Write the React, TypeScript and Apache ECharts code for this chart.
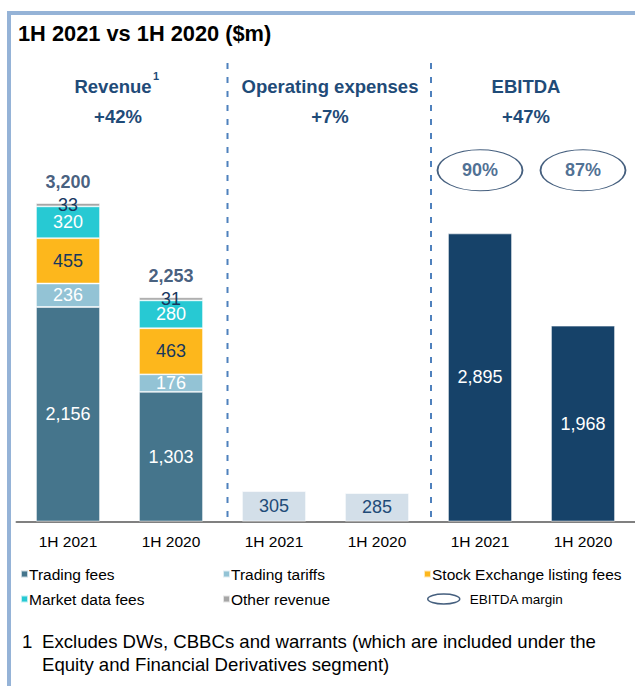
import React, { useEffect, useRef } from "react";
import * as echarts from "echarts";

const CATEGORIES = ["rev21", "rev20", "opex21", "opex20", "ebitda21", "ebitda20"];
const CATEGORY_LABELS = ["1H 2021", "1H 2020", "1H 2021", "1H 2020", "1H 2021", "1H 2020"];

const TRADING_FEES = [2156, 1303, null, null, null, null];
const TRADING_TARIFFS = [236, 176, null, null, null, null];
const LISTING_FEES = [455, 463, null, null, null, null];
const MARKET_DATA_FEES = [320, 280, null, null, null, null];
const OTHER_REVENUE = [33, 31, null, null, null, null];
const OPEX = [null, null, 305, 285, null, null];
const EBITDA = [null, null, null, null, 2895, 1968];
const EBITDA_MARGIN = [null, null, null, null, 90, 87];

const SECTION_TITLES = ["Revenue", "Operating expenses", "EBITDA"];
const SECTION_CHANGES = ["+42%", "+7%", "+47%"];
const TITLE = "1H 2021 vs 1H 2020 ($m)";
const FOOTNOTE = [
  "Excludes DWs, CBBCs and warrants (which are included under the",
  "Equity and Financial Derivatives segment)",
];

const FONT = "'Liberation Sans', Arial, Helvetica, sans-serif";
const NAVY = "#1f4b78";
const DARK = "#17375e";
const MARGIN_ROW = 3530; // vertical placement of the margin ellipses (axis units)

const fmt = (v: number) => v.toLocaleString("en-US");

export default function App() {
  const ref = useRef<HTMLDivElement>(null);

  useEffect(() => {
    if (!ref.current) return;
    const chart = echarts.init(ref.current, undefined, { renderer: "svg" });

    const totals = CATEGORIES.map((_, i) => {
      const parts = [TRADING_FEES, TRADING_TARIFFS, LISTING_FEES, MARKET_DATA_FEES, OTHER_REVENUE].map(
        (a) => a[i]
      );
      if (parts.every((p) => p == null)) return null;
      return parts.reduce((s: number, p) => s + (p || 0), 0);
    });

    const barSeries = (
      name: string,
      data: (number | null)[],
      color: string,
      labelColor: string
    ) => ({
      name,
      type: "bar",
      stack: "all",
      barWidth: 64,
      data,
      itemStyle: { color, borderColor: "rgba(255,255,255,0.7)", borderWidth: 0.8 },
      label: {
        show: true,
        position: "inside",
        formatter: (p: any) => fmt(p.value),
        color: labelColor,
        fontSize: 18,
        fontFamily: FONT,
        textBorderWidth: 0,
      },
    });

    const sectionCenters = [118, 330, 526];
    const graphic: any[] = [
      { type: "rect", shape: { x: 7, y: 11, width: 628, height: 4 }, style: { fill: "#95b3d7" } },
      { type: "rect", shape: { x: 7, y: 11, width: 4, height: 675 }, style: { fill: "#95b3d7" } },
      {
        type: "text",
        x: 18,
        y: 33,
        style: {
          text: TITLE,
          fontSize: 21.8,
          fontWeight: "bold",
          fontFamily: FONT,
          fill: "#000",
          textVerticalAlign: "middle",
        },
      },
      ...[227.5, 431].map((x) => ({
        type: "line",
        shape: { x1: x, y1: 63, x2: x, y2: 520 },
        style: { stroke: "#4f81bd", lineWidth: 2, lineDash: [6, 8] },
      })),
      ...SECTION_TITLES.map((t, i) => ({
        type: "text",
        x: i === 0 ? sectionCenters[i] - 5 : sectionCenters[i],
        y: 86,
        style: {
          text: t,
          fontSize: 18.5,
          fontWeight: "bold",
          fontFamily: FONT,
          fill: NAVY,
          textAlign: "center",
          textVerticalAlign: "middle",
        },
      })),
      {
        type: "text",
        x: 153,
        y: 76,
        style: {
          text: "1",
          fontSize: 11,
          fontWeight: "bold",
          fontFamily: FONT,
          fill: NAVY,
          textVerticalAlign: "middle",
        },
      },
      ...SECTION_CHANGES.map((t, i) => ({
        type: "text",
        x: sectionCenters[i],
        y: 116,
        style: {
          text: t,
          fontSize: 18.5,
          fontWeight: "bold",
          fontFamily: FONT,
          fill: NAVY,
          textAlign: "center",
          textVerticalAlign: "middle",
        },
      })),
      {
        type: "text",
        x: 22,
        y: 641,
        style: { text: "1", fontSize: 18.6, fontFamily: FONT, fill: "#000", textVerticalAlign: "middle" },
      },
      ...FOOTNOTE.map((t, i) => ({
        type: "text",
        x: 42,
        y: 641 + i * 23,
        style: { text: t, fontSize: 18.6, fontFamily: FONT, fill: "#000", textVerticalAlign: "middle" },
      })),
    ];

    const legendText = { fontSize: 15.5, fontFamily: FONT, color: "#000", lineHeight: 17, padding: [0, 0, 0, -4] };
    const legendBase = {
      orient: "vertical",
      padding: 0,
      itemWidth: 7,
      itemHeight: 7,
      itemGap: 8,
      icon: "rect",
      top: 565.5,
      textStyle: legendText,
      selectedMode: false,
    };

    chart.setOption({
      animation: false,
      backgroundColor: "#fff",
      grid: { left: 16.5, width: 618, top: 123.5, bottom: 164.5 },
      xAxis: {
        type: "category",
        data: CATEGORIES,
        axisLine: { show: true, lineStyle: { color: "#808080", width: 2 } },
        axisTick: { show: false },
        axisLabel: {
          formatter: (_: string, i: number) => CATEGORY_LABELS[i],
          color: "#000",
          fontSize: 15.5,
          fontFamily: FONT,
          margin: 12,
        },
      },
      yAxis: { type: "value", min: 0, max: 4000, show: false, splitLine: { show: false } },
      legend: [
        { ...legendBase, left: 20, data: ["Trading fees", "Market data fees"] },
        { ...legendBase, left: 222, data: ["Trading tariffs", "Other revenue"] },
        { ...legendBase, left: 423, data: ["Stock Exchange listing fees"] },
        {
          orient: "horizontal",
          padding: 0,
          left: 427,
          top: 590.5,
          itemWidth: 32,
          itemHeight: 10,
          selectedMode: false,
          textStyle: { fontSize: 13.5, fontFamily: FONT, color: "#000", lineHeight: 17, padding: [0, 0, 0, 5] },
          data: [
            {
              name: "EBITDA margin",
              icon: "path://M0,5 A16,5 0 1,1 32,5 A16,5 0 1,1 0,5 Z",
              itemStyle: { color: "#fff", borderColor: DARK, borderWidth: 1.5 },
            },
          ],
        },
      ],
      graphic,
      series: [
        barSeries("Trading fees", TRADING_FEES, "#45758c", "#fff"),
        barSeries("Trading tariffs", TRADING_TARIFFS, "#93c3d5", "#fff"),
        barSeries("Stock Exchange listing fees", LISTING_FEES, "#fdb71c", DARK),
        barSeries("Market data fees", MARKET_DATA_FEES, "#27c9d3", "#fff"),
        barSeries("Other revenue", OTHER_REVENUE, "#a6a6a6", DARK),
        barSeries("Operating expenses", OPEX, "#d3dfe9", NAVY),
        barSeries("EBITDA", EBITDA, "#164269", "#fff"),
        {
          name: "Total",
          type: "scatter",
          symbolSize: 0,
          data: totals.map((t, i) => (t == null ? null : [i, t])).filter((d) => d),
          label: {
            show: true,
            position: "top",
            distance: 12,
            formatter: (p: any) => fmt(p.value[1]),
            color: DARK,
            fontSize: 18,
            fontWeight: "bold",
            fontFamily: FONT,
          },
        },
        {
          name: "EBITDA margin",
          type: "scatter",
          clip: false,
          symbol: "path://M0,5 A16,5 0 1,1 32,5 A16,5 0 1,1 0,5 Z",
          symbolKeepAspect: false,
          symbolSize: [85, 41],
          itemStyle: { color: "#fff", borderColor: DARK, borderWidth: 1.3 },
          data: EBITDA_MARGIN.map((m, i) => (m == null ? null : [i, MARGIN_ROW, m])).filter((d) => d),
          label: {
            show: true,
            position: "inside",
            formatter: (p: any) => p.value[2] + "%",
            color: NAVY,
            fontSize: 18,
            fontWeight: "bold",
            fontFamily: FONT,
          },
        },
      ],
    });

    return () => chart.dispose();
  }, []);

  return (
    <div
      ref={ref}
      style={{ position: "absolute", left: 0, top: 0, width: 635, height: 686 }}
    />
  );
}
